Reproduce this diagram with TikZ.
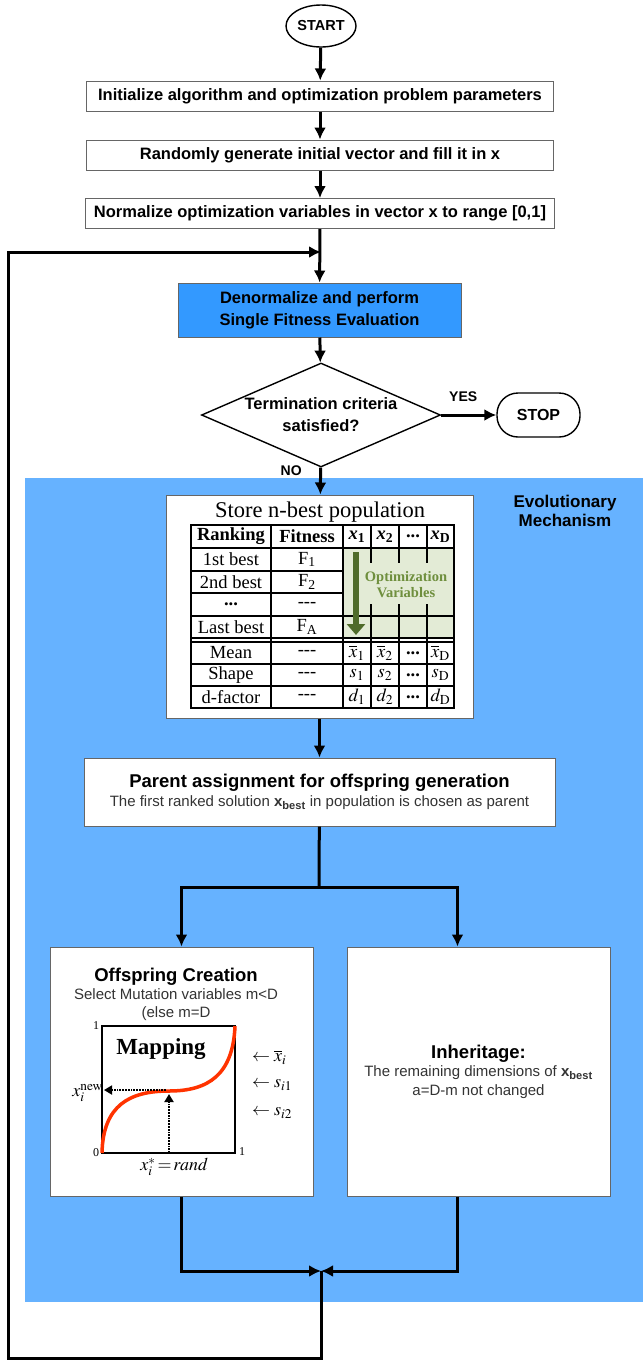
\documentclass[tikz,border=0pt]{standalone}
\usepackage{mathptmx}
\usepackage[no-math]{fontspec}
\setmainfont{Liberation Sans}
\newfontfamily\tabfont{Liberation Serif}
\usetikzlibrary{arrows.meta,shapes.geometric,positioning}
\definecolor{mechblue}{HTML}{66B2FF}
\definecolor{evalblue}{HTML}{3399FF}
\definecolor{boxline}{HTML}{666666}
\definecolor{optgreen}{HTML}{E3EBD6}
\definecolor{optdark}{HTML}{4F6B2A}
\definecolor{opttext}{HTML}{6F8F3E}
\definecolor{mapred}{HTML}{FF3300}
\definecolor{subgray}{HTML}{333333}
\newcommand{\xhead}[1]{\textbf{\textit{x}\textsubscript{#1}}}
\newcommand{\xbest}{\textbf{x}\textsubscript{\textbf{best}}}

\begin{document}
\begin{tikzpicture}[
  x=1pt,y=-1pt,
  >={Latex[length=12pt,width=12pt]},
  flow/.style={->,line width=3pt},
  stepbox/.style={draw=boxline,line width=1pt,fill=white,minimum width=467pt,
    minimum height=30pt,inner sep=0pt,font=\bfseries\fontsize{16.5}{19}\selectfont},
  terminal/.style={draw,line width=1.4pt,ellipse,minimum width=70pt,minimum height=42pt,
    inner sep=0pt,font=\bfseries\fontsize{14.5}{17}\selectfont},
  stopbox/.style={draw,line width=1.4pt,rounded corners=21pt,minimum width=83pt,
    minimum height=44pt,inner sep=0pt,font=\bfseries\fontsize{16}{18}\selectfont},
  evalbox/.style={draw=boxline,line width=1pt,fill=evalblue,minimum width=283pt,
    minimum height=54pt,align=center,font=\bfseries\fontsize{16.5}{22}\selectfont},
  decision/.style={draw,line width=1.4pt,diamond,aspect=2.3,minimum width=239pt,
    minimum height=104pt,inner sep=0pt,align=center,font=\bfseries\fontsize{16.5}{22}\selectfont},
  tag/.style={font=\bfseries\fontsize{14}{16}\selectfont},
  mechregion/.style={fill=mechblue,minimum width=618pt,minimum height=824pt,inner sep=0pt},
  whitebox/.style={draw=boxline,line width=1pt,fill=white,inner sep=0pt,align=center,
    font=\fontsize{15}{18.5}\selectfont},
  cell/.style={font=\tabfont\fontsize{18.5}{19}\selectfont,inner sep=0pt},
  grid/.style={line width=1.4pt},
  mathlbl/.style={font=\fontsize{18}{20}\selectfont,inner sep=1pt},
  axnum/.style={font=\tabfont\fontsize{12}{14}\selectfont,inner sep=0pt}
]
  \useasboundingbox (0,0) rectangle (643,1361);

  % evolutionary mechanism region
  \node[mechregion] (mech) at (334,890) {};
  \node[font=\bfseries\fontsize{17}{19}\selectfont,align=center] (evo) at (565,511)
    {Evolutionary\\Mechanism};

  % main chain
  \node[terminal] (start) at (321,26) {START};
  \node[stepbox] (init) at (320,96) {Initialize algorithm and optimization problem parameters};
  \node[stepbox] (rand) at (320,155) {Randomly generate initial vector and fill it in x};
  \node[stepbox,minimum width=469pt] (norm) at (320,213.5)
    {Normalize optimization variables in vector x to range [0,1]};
  \coordinate (loopin) at (321,252);
  \node[evalbox] (eval) at (319.5,310) {Denormalize and perform\\Single Fitness Evaluation};
  \node[decision] (term) at (321,415) {Termination criteria\\satisfied?};
  \node[stopbox] (stop) at (538.5,415) {STOP};

  % n-best population table
  \node[whitebox,minimum width=307pt,minimum height=223pt] (store) at (319.5,606.5) {};
  \node[font=\tabfont\fontsize{22.5}{24}\selectfont] (storetitle) at (320,512) {Store n-best population};
  \fill[optgreen] (343,548) rectangle (454,638);
  \draw[grid] (191,525) rectangle (454,708);
  \foreach \y in {548,616,638,642,664,686} \draw[grid] (191,\y) -- (454,\y);
  \foreach \y in {571,593} \draw[grid] (191,\y) -- (343,\y);
  \foreach \x in {271,343} \draw[grid] (\x,525) -- (\x,708);
  \foreach \x in {371,399,427} {
    \draw[grid] (\x,525) -- (\x,563);
    \draw[grid] (\x,604) -- (\x,708);
  }
  \draw[optdark,line width=6pt,-{Triangle[length=11pt,width=18pt]}] (356,552) -- (356,635);
  \node[font=\tabfont\bfseries\fontsize{14.5}{16}\selectfont,text=opttext,align=center]
    (optvars) at (406,585) {Optimization\\Variables};

  \node[cell,font=\tabfont\bfseries\fontsize{18.5}{19}\selectfont] (hrank) at (231,536.5) {Ranking};
  \node[cell,font=\tabfont\bfseries\fontsize{18.5}{19}\selectfont] (hfit) at (307,536.5) {Fitness};
  \node[cell] (hx1) at (357,536.5) {\xhead{1}};
  \node[cell] (hx2) at (385,536.5) {\xhead{2}};
  \node[cell] (hxd) at (413,536.5) {\textbf{...}};
  \node[cell] (hxD) at (440.5,536.5) {\xhead{D}};
  \foreach \lab/\fit/\y [count=\i] in {1st best/F\textsubscript{1}/559.5,
      2nd best/F\textsubscript{2}/582, \textbf{...}/---/604.5, Last best/F\textsubscript{A}/627} {
    \node[cell] (rank\i) at (231,\y) {\lab};
    \node[cell] (fit\i) at (307,\y) {\fit};
  }
  \foreach \lab/\sym/\y [count=\i] in {Mean/\overline{x}/653, Shape/s/675, d-factor/d/697} {
    \node[cell] (stat\i) at (231,\y) {\lab};
    \node[cell] (none\i) at (307,\y) {---};
    \node[cell] (v\i-1) at (357,\y) {$\sym_1$};
    \node[cell] (v\i-2) at (385,\y) {$\sym_2$};
    \node[cell] (v\i-3) at (413,\y) {\textbf{...}};
    \node[cell] (v\i-4) at (440.5,\y) {$\sym_{\mathrm{D}}$};
  }

  % parent and offspring
  \node[whitebox,minimum width=471pt,minimum height=68pt] (parent) at (319.5,792)
    {{\bfseries\fontsize{18.5}{20}\selectfont Parent assignment for offspring generation}\\
     {\color{subgray}The first ranked solution \xbest{} in population is chosen as parent}};
  \coordinate (split) at (319,887);
  \node[whitebox,minimum width=263pt,minimum height=249pt] (offspring) at (181.5,1071.5) {};
  \node[align=center,font=\fontsize{15}{18}\selectfont] (offtitle) at (176,994)
    {{\bfseries\fontsize{18.5}{20}\selectfont Offspring Creation}\\
     {\color{subgray}Select Mutation variables m<D}\\
     {\color{subgray}(else m=D}};
  \node[whitebox,minimum width=263pt,minimum height=249pt] (inherit) at (478.5,1071.5)
    {{\bfseries\fontsize{18.5}{20}\selectfont Inheritage:}\\
     {\color{subgray}The remaining dimensions of \xbest}\\
     {\color{subgray}a=D-m not changed}};
  \coordinate (merge) at (321,1271);
  \coordinate (loopbot) at (8,1358);

  % mapping plot
  \draw[line width=2pt] (102,1026) rectangle (235,1153);
  \node[font=\tabfont\bfseries\fontsize{23}{25}\selectfont] (maptitle) at (161,1049) {Mapping};
  \draw[mapred,line width=3.5pt] (102,1153) .. controls (103,1105) and (130,1091) .. (169,1091)
    .. controls (208,1091) and (233,1075) .. (235,1026);
  \draw[densely dotted,line width=1.8pt,-{Triangle[length=8pt,width=9pt]}] (169,1153) -- (169,1094);
  \draw[densely dotted,line width=1.8pt,-{Triangle[length=8pt,width=9pt]}] (166,1090) -- (104,1090);
  \node[axnum] (ax1) at (96,1026) {1};
  \node[axnum] (ax0) at (96,1153) {0};
  \node[axnum] (axr) at (242,1152) {1};
  \node[mathlbl,left] (xnew) at (104,1093) {$x_i^{\mathrm{new}}$};
  \node[mathlbl] (xstar) at (174,1167) {$x_i^{*}\!=\!\mathit{rand}$};
  \node[mathlbl,anchor=west] (mbar) at (251,1057) {$\leftarrow\overline{x}_i$};
  \node[mathlbl,anchor=west] (ms1) at (251,1085) {$\leftarrow s_{i1}$};
  \node[mathlbl,anchor=west] (ms2) at (251,1113) {$\leftarrow s_{i2}$};

  % connectors
  \draw[flow] (start) -- (init);
  \draw[flow] (init) -- (rand);
  \draw[flow] (rand) -- (norm);
  \draw[flow] (norm) -- (eval);
  \draw[flow] (eval) -- (term);
  \draw[flow] (term) -- node[tag,above=9pt,pos=0.4] {YES} (stop);
  \draw[flow] (term) -- node[tag,pos=0.1,left=14pt] {NO} (store);
  \draw[flow] (store) -- (parent);
  \draw[line width=3pt] (parent) -- (split);
  \draw[flow] (split) -| (offspring.north);
  \draw[flow] (split) -| ([xshift=-21pt]inherit.north);
  \draw[flow] (offspring.south) |- (merge);
  \draw[flow] ([xshift=-21pt]inherit.south) |- (merge);
  \draw[flow] (merge) |- (loopbot) |- (loopin);
\end{tikzpicture}
\end{document}
